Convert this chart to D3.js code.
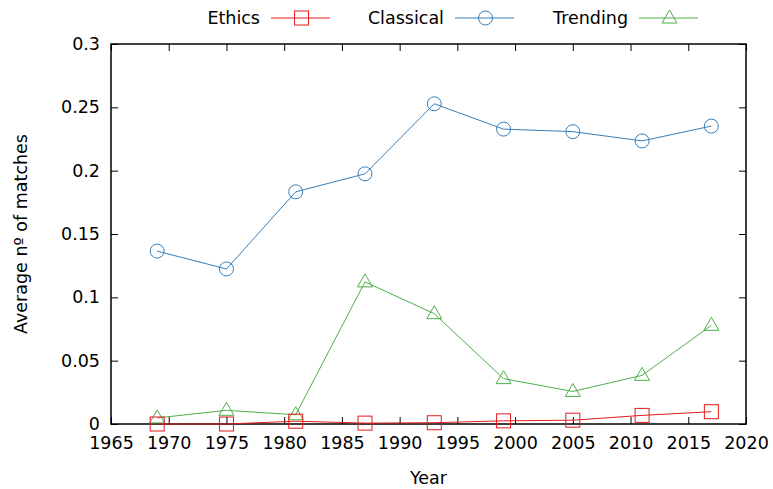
<!DOCTYPE html>
<html>
<head>
<meta charset="utf-8">
<script src="https://cdn.jsdelivr.net/npm/d3@7"></script>
<style>
  body { margin: 0; background: #fff; }
  text { font-family: "DejaVu Sans", sans-serif; fill: #000; }
</style>
</head>
<body>
<div id="chart"></div>
<script>
const years = [1969, 1975, 1981, 1987, 1993, 1999, 2005, 2011, 2017];
const ethics = [0.0, 0.0, 0.0022, 0.0007, 0.001, 0.0025, 0.003, 0.0068, 0.0097];
const classical = [0.1365, 0.1224, 0.1833, 0.1975, 0.2528, 0.2328, 0.2308, 0.2235, 0.2352];
const trending = [0.0048, 0.0108, 0.0073, 0.1122, 0.0871, 0.0358, 0.0257, 0.0384, 0.0779];
const xTicks = [1965, 1970, 1975, 1980, 1985, 1990, 1995, 2000, 2005, 2010, 2015, 2020];
const yTicks = [0, 0.05, 0.1, 0.15, 0.2, 0.25, 0.3];

const width = 773, height = 489;
const margin = {left: 111, right: 27, top: 44, bottom: 65};
const fontSize = 17.5;

const svg = d3.select("#chart").append("svg")
  .attr("width", width)
  .attr("height", height);

const x = d3.scaleLinear().domain([1965, 2020]).range([margin.left, width - margin.right]);
const y = d3.scaleLinear().domain([0, 0.3]).range([height - margin.bottom, margin.top]);

const tickLen = 7;

// axes, ticks pointing inward, mirrored
const bottomAxis = d3.axisBottom(x).tickValues(xTicks).tickFormat(d3.format("d"))
  .tickSizeInner(-tickLen).tickSizeOuter(0).tickPadding(13);
const topAxis = d3.axisTop(x).tickValues(xTicks).tickFormat("")
  .tickSizeInner(-tickLen).tickSizeOuter(0);
const leftAxis = d3.axisLeft(y).tickValues(yTicks).tickFormat(d => d3.format("")(+d.toFixed(2)))
  .tickSizeInner(-tickLen).tickSizeOuter(0).tickPadding(11);
const rightAxis = d3.axisRight(y).tickValues(yTicks).tickFormat("")
  .tickSizeInner(-tickLen).tickSizeOuter(0);

function styleAxis(g) {
  g.select(".domain").remove();
  g.selectAll(".tick line").attr("stroke", "#000").attr("stroke-width", 1);
  g.selectAll(".tick text").attr("font-size", fontSize).attr("font-family", "DejaVu Sans, sans-serif").attr("fill", "#000");
}

svg.append("g").attr("transform", `translate(0,${y(0)})`).call(bottomAxis).call(styleAxis);
svg.append("g").attr("transform", `translate(0,${y(0.3)})`).call(topAxis).call(styleAxis);
svg.append("g").attr("transform", `translate(${x(1965)},0)`).call(leftAxis).call(styleAxis);
svg.append("g").attr("transform", `translate(${x(2020)},0)`).call(rightAxis).call(styleAxis);

// border
svg.append("rect")
  .attr("x", x(1965)).attr("y", y(0.3))
  .attr("width", x(2020) - x(1965)).attr("height", y(0) - y(0.3))
  .attr("fill", "none").attr("stroke", "#000").attr("stroke-width", 1.5);

// axis titles
svg.append("text")
  .attr("x", (x(1965) + x(2020)) / 2).attr("y", 484)
  .attr("text-anchor", "middle").attr("font-size", fontSize)
  .text("Year");
svg.append("text")
  .attr("transform", `translate(27,${(y(0) + y(0.3)) / 2}) rotate(-90)`)
  .attr("text-anchor", "middle").attr("font-size", fontSize)
  .text("Average nº of matches");

const series = [
  {name: "Ethics", values: ethics, color: "#e41a1c", shape: "square", keyEnd: 260},
  {name: "Classical", values: classical, color: "#377eb8", shape: "circle", keyEnd: 444},
  {name: "Trending", values: trending, color: "#4daf4a", shape: "triangle", keyEnd: 628}
];

function drawMarker(g, shape, cx, cy, color) {
  if (shape === "square") {
    g.append("rect").attr("x", cx - 7).attr("y", cy - 7).attr("width", 14).attr("height", 14)
      .attr("fill", "none").attr("stroke", color).attr("stroke-width", 1);
  } else if (shape === "circle") {
    g.append("circle").attr("cx", cx).attr("cy", cy).attr("r", 7)
      .attr("fill", "none").attr("stroke", color).attr("stroke-width", 1);
  } else {
    g.append("path")
      .attr("d", `M${cx},${cy - 8} L${cx + 7.5},${cy + 5} L${cx - 7.5},${cy + 5} Z`)
      .attr("fill", "none").attr("stroke", color).attr("stroke-width", 1);
  }
}

const line = d3.line().x((d, i) => x(years[i])).y(d => y(d));

// draw in reverse so ethics ends up on top
series.slice().reverse().forEach(s => {
  const g = svg.append("g");
  g.append("path").datum(s.values)
    .attr("d", line)
    .attr("fill", "none").attr("stroke", s.color).attr("stroke-width", 1);
  s.values.forEach((v, i) => drawMarker(g, s.shape, x(years[i]), y(v), s.color));
});

// legend
series.forEach(s => {
  const g = svg.append("g");
  g.append("text").attr("x", s.keyEnd).attr("y", 24)
    .attr("text-anchor", "end").attr("font-size", fontSize).text(s.name);
  const lx0 = s.keyEnd + 11, lx1 = s.keyEnd + 70, ly = 18;
  g.append("line").attr("x1", lx0).attr("x2", lx1).attr("y1", ly).attr("y2", ly)
    .attr("stroke", s.color).attr("stroke-width", 1);
  drawMarker(g, s.shape, (lx0 + lx1) / 2 + 1, ly, s.color);
});
</script>
</body>
</html>
